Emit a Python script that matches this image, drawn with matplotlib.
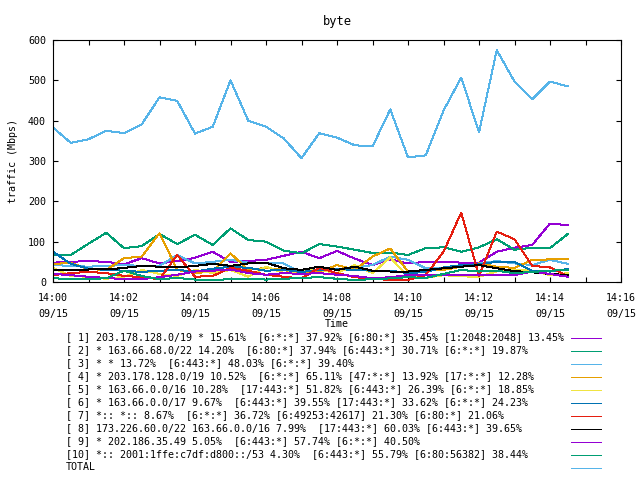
import matplotlib
matplotlib.use('Agg')
import matplotlib.pyplot as plt
import matplotlib.dates as mdates
from matplotlib.ticker import MultipleLocator
import pandas as pd

# sample times: every 30 seconds from 14:00:00 to 14:14:30
times = pd.date_range('2023-09-15 14:00:00', periods=30, freq='30s')

labels = [
    '[ 1] 203.178.128.0/19 * 15.61%  [6:*:*] 37.92% [6:80:*] 35.45% [1:2048:2048] 13.45%',
    '[ 2] * 163.66.68.0/22 14.20%  [6:80:*] 37.94% [6:443:*] 30.71% [6:*:*] 19.87%',
    '[ 3] * * 13.72%  [6:443:*] 48.03% [6:*:*] 39.40%',
    '[ 4] * 203.178.128.0/19 10.52%  [6:*:*] 65.11% [47:*:*] 13.92% [17:*:*] 12.28%',
    '[ 5] * 163.66.0.0/16 10.28%  [17:443:*] 51.82% [6:443:*] 26.39% [6:*:*] 18.85%',
    '[ 6] * 163.66.0.0/17 9.67%  [6:443:*] 39.55% [17:443:*] 33.62% [6:*:*] 24.23%',
    '[ 7] *:: *:: 8.67%  [6:*:*] 36.72% [6:49253:42617] 21.30% [6:80:*] 21.06%',
    '[ 8] 173.226.60.0/22 163.66.0.0/16 7.99%  [17:443:*] 60.03% [6:443:*] 39.65%',
    '[ 9] * 202.186.35.49 5.05%  [6:443:*] 57.74% [6:*:*] 40.50%',
    '[10] *:: 2001:1ffe:c7df:d800::/53 4.30%  [6:443:*] 55.79% [6:80:56382] 38.44%',
    'TOTAL',
]

# traffic in Mbps
s1 = [48, 50, 52, 50, 44, 59, 46, 52, 60, 75, 50, 52, 55, 65, 75,
      59, 77, 58, 42, 56, 46, 50, 50, 48, 48, 75, 85, 92, 145, 141]
s2 = [67, 67, 95, 122, 84, 89, 119, 94, 117, 92, 133, 104, 100, 78, 71,
      94, 88, 80, 72, 73, 67, 84, 86, 75, 86, 106, 80, 85, 84, 119]
s3 = [42, 40, 38, 40, 42, 40, 40, 67, 46, 50, 55, 48, 46, 46, 22,
      30, 32, 35, 42, 63, 55, 34, 36, 38, 46, 52, 46, 42, 55, 45]
s4 = [45, 47, 32, 30, 59, 63, 121, 30, 22, 26, 71, 30, 35, 30, 20,
      25, 42, 30, 63, 83, 26, 28, 30, 38, 46, 38, 35, 55, 56, 56]
s5 = [35, 15, 13, 8, 13, 30, 20, 15, 30, 22, 30, 13, 38, 22, 28,
      30, 22, 42, 22, 61, 13, 10, 17, 14, 13, 26, 30, 28, 17, 22]
s6 = [75, 45, 33, 30, 28, 25, 28, 30, 26, 33, 38, 35, 28, 30, 25,
      30, 32, 30, 28, 28, 22, 25, 36, 42, 44, 50, 50, 28, 26, 32]
s7 = [17, 22, 25, 22, 15, 12, 7, 67, 13, 15, 35, 28, 18, 13, 9,
      35, 22, 12, 8, 5, 5, 17, 75, 172, 15, 125, 106, 40, 36, 15]
s8 = [30, 30, 31, 31, 35, 40, 38, 36, 40, 45, 40, 46, 48, 34, 30,
      38, 30, 38, 28, 26, 26, 30, 34, 38, 42, 34, 27, 24, 20, 17]
s9 = [20, 17, 13, 10, 7, 7, 12, 18, 26, 28, 31, 22, 18, 22, 20,
      22, 18, 15, 9, 12, 17, 17, 17, 17, 17, 17, 17, 26, 20, 13]
s10 = [9, 8, 8, 9, 28, 15, 7, 10, 6, 5, 7, 8, 6, 8, 10,
       12, 8, 5, 7, 9, 12, 10, 20, 30, 26, 28, 22, 25, 28, 30]
total = [383, 345, 354, 375, 369, 391, 458, 449, 368, 385, 500, 400, 385, 356, 307,
         369, 358, 339, 336, 428, 309, 314, 425, 507, 371, 575, 497, 453, 497, 485]

series = [s1, s2, s3, s4, s5, s6, s7, s8, s9, s10, total]
colors = ['#9400D3', '#009E73', '#56B4E9', '#E69F00', '#F0E442', '#0072B2',
          '#E51E10', '#000000', '#9400D3', '#009E73', '#56B4E9']

plt.rcParams['font.family'] = 'DejaVu Sans Mono'
plt.rcParams['font.size'] = 7.2

fig = plt.figure(figsize=(6.4, 4.8), dpi=100)
ax = fig.add_axes([53 / 640, 1 - 282 / 480, 568 / 640, 242 / 480])

for vals, col, lab in zip(series, colors, labels):
    ax.plot(times, vals, color=col, lw=0.72, label=lab, antialiased=False)

ax.set_ylim(0, 600)
ax.set_xlim(pd.Timestamp('2023-09-15 14:00'), pd.Timestamp('2023-09-15 14:16'))
ax.yaxis.set_major_locator(MultipleLocator(100))
ax.xaxis.set_major_locator(mdates.MinuteLocator(interval=2))
ax.xaxis.set_minor_locator(mdates.MinuteLocator(interval=1))
ax.xaxis.set_major_formatter(mdates.DateFormatter('%H:%M\n%m/%d'))
ax.tick_params(which='both', direction='in', top=True, right=True, length=3.6, width=0.8)
ax.tick_params(axis='y', pad=5)
ax.tick_params(axis='x', pad=8)
for lbl in ax.get_xticklabels():
    lbl.set_linespacing(1.7)
for sp in ax.spines.values():
    sp.set_linewidth(0.8)

ax.set_title('byte', pad=11)
ax.set_ylabel('traffic (Mbps)', labelpad=7)
ax.set_xlabel('Time', labelpad=0)

# key: text on the left, sample line on the right (gnuplot style)
handles, _ = ax.get_legend_handles_labels()
leg = fig.legend(handles, [''] * len(handles), loc='upper left',
                 bbox_to_anchor=(571 / 640, 1 - 333 / 480),
                 frameon=False, handlelength=3.0, handletextpad=0,
                 labelspacing=0.3, borderaxespad=0, borderpad=0)
fig.canvas.draw()
for h, lab in zip(leg.legend_handles, labels):
    bb = h.get_window_extent()
    yc = (bb.y0 + bb.y1) / 2 / fig.bbox.height
    fig.text(66 / 640, yc, lab, ha='left', va='center')

fig.savefig('out.png', dpi=100)
